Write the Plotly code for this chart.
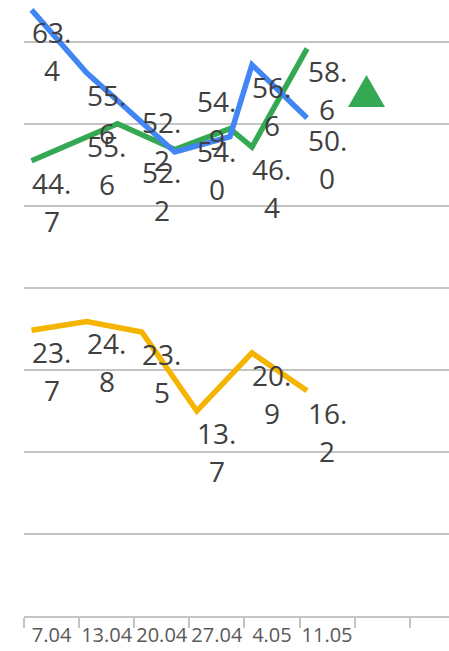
import plotly.graph_objects as go

# ---- data ----
categories = ["7.04", "13.04", "20.04", "27.04", "4.05", "11.05", " ", "  "]

blue_labels = [63.4, 55.6, 52.2, 54.9, 56.6, 50.0]
blue_line = [63.4, 55.6, 45.8, 47.7, 56.6, 50.0]
blue_x = [0, 1, 2.6, 3.6, 4, 5]

green_labels = [44.7, 55.6, 52.2, 54.0, 46.4, 58.6]
green_line = [44.7, 49.3, 46.1, 48.7, 46.4, 58.6]
green_x = [0, 1.56, 2.6, 3.6, 4, 5]

yellow_labels = [23.7, 24.8, 23.5, 13.7, 20.9, 16.2]
yellow_line = [23.7, 24.8, 23.5, 13.7, 20.9, 16.2]
yellow_x = [0, 1, 2, 3, 4, 5]

BLUE = "#4285F4"
GREEN = "#34A853"
YELLOW = "#F4B400"
LABEL_COLOR = "#404040"
AXIS_GRAY = "#c4c4c4"

fig = go.Figure()

# helper trace to register categories on the category axis
fig.add_trace(go.Scatter(x=categories, y=[None] * len(categories), xaxis="x", yaxis="y",
                         mode="lines", showlegend=False, hoverinfo="skip"))

# (x, line values, label values, label anchor values, colour)
series = [
    (yellow_x, yellow_line, yellow_labels, yellow_line, YELLOW),
    (green_x, green_line, green_labels, green_line, GREEN),
    (blue_x, blue_line, blue_labels, blue_labels, BLUE),
]

for xs, ys, labs, anchors, col in series:
    fig.add_trace(go.Scatter(x=xs, y=ys, xaxis="x2", yaxis="y", mode="lines",
                             line=dict(color=col, width=5.5), showlegend=False,
                             hoverinfo="skip"))

label_font = dict(family="Open Sans", size=28, color=LABEL_COLOR)
annotations = []
for xs, ys, labs, anchors, col in series:
    for i, (yv, lab) in enumerate(zip(anchors, labs)):
        head, tail = f"{lab:.1f}".split(".")
        for txt, dy in ((head + ".", -22), (tail, -60)):
            annotations.append(dict(
                x=i, y=yv, xref="x2", yref="y", text=txt, showarrow=False,
                xanchor="center", yanchor="middle", xshift=20, yshift=dy,
                font=label_font,
            ))

y_bottom = -11.70
y_top = 64.63
grid_step = 10.16

fig.update_layout(
    width=449, height=651,
    margin=dict(l=24, r=0, t=0, b=35, autoexpand=False),
    paper_bgcolor="white", plot_bgcolor="white",
    showlegend=False,
    annotations=annotations,
    xaxis=dict(
        type="category", categoryorder="array", categoryarray=categories,
        range=[-0.5, 7.213], tickson="boundaries", ticks="outside", ticklen=10,
        tickwidth=1.5, tickcolor=AXIS_GRAY, showline=True, linecolor=AXIS_GRAY,
        linewidth=2, showgrid=False, zeroline=False, tickangle=0, automargin=False,
        tickfont=dict(family="Open Sans", size=20, color="#595959"),
        fixedrange=True,
    ),
    xaxis2=dict(
        overlaying="x", range=[-0.137, 7.576], visible=False, showgrid=False,
        zeroline=False,
    ),
    yaxis=dict(
        range=[y_bottom, y_top], showticklabels=False, ticks="",
        showgrid=True, gridcolor=AXIS_GRAY, gridwidth=1.5,
        tickmode="linear", tick0=y_bottom, dtick=grid_step,
        zeroline=False, showline=False, automargin=False,
    ),
    shapes=[dict(
        type="path", xref="paper", yref="paper",
        path="M 0.7624 0.8263 L 0.8494 0.8263 L 0.8059 0.8782 Z",
        fillcolor=GREEN, line=dict(width=0),
    )],
)

fig.write_html("out.html", config={"displayModeBar": False},
               post_script="document.body.style.margin='0';document.body.style.overflow='hidden';")
